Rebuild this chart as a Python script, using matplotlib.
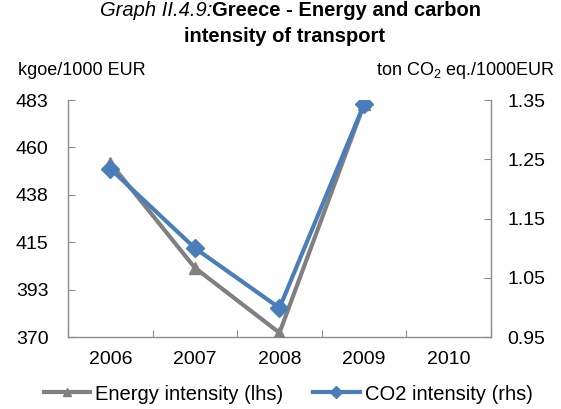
import matplotlib
matplotlib.use("Agg")
import matplotlib.pyplot as plt
import numpy as np

plt.rcParams["font.family"] = ["Liberation Sans", "DejaVu Sans"]
plt.rcParams["mathtext.fontset"] = "custom"
plt.rcParams["mathtext.rm"] = "Liberation Sans"

years = ["2006", "2007", "2008", "2009", "2010"]
energy_intensity = [453, 403, 372, 481]      # lhs, kgoe/1000 EUR
co2_intensity = [1.234, 1.100, 0.999, 1.343]  # rhs, ton CO2 eq./1000EUR
lhs_ticks = np.linspace(370, 483, 6)
rhs_ticks = [0.95, 1.05, 1.15, 1.25, 1.35]

GREY = "#808080"
BLUE = "#4A7EBB"
AXIS = "#8C8C8C"

fig = plt.figure(figsize=(5.61, 4.09), dpi=100)
ax = fig.add_axes([0.1212, 0.176, 0.754, 0.5795])
ax2 = ax.twinx()

x = np.arange(len(energy_intensity))
l1, = ax.plot(x, energy_intensity, color=GREY, lw=3.0, marker="^", ms=9,
              markeredgecolor=GREY, zorder=3)
l2, = ax2.plot(x, co2_intensity, color=BLUE, lw=3.0, marker="D", ms=9,
               markeredgecolor=BLUE, zorder=4)

ax.set_xlim(-0.5, len(years) - 0.5)
ax.set_ylim(lhs_ticks[0], lhs_ticks[-1])
ax2.set_ylim(rhs_ticks[0], rhs_ticks[-1])

ax.set_yticks(lhs_ticks)
ax.set_yticklabels([f"{v:.0f}" for v in lhs_ticks])
ax2.set_yticks(rhs_ticks)
ax2.set_yticklabels([f"{v:.2f}" for v in rhs_ticks])

# category boundaries carry the tick marks, labels sit at category centres
ax.set_xticks(np.arange(len(years) + 1) - 0.5, minor=False)
ax.set_xticklabels([])
ax.set_xticks(np.arange(len(years)), minor=True)
ax.set_xticklabels(years, minor=True)
ax.tick_params(axis="x", which="minor", length=0, labelsize=14, pad=10)
ax.tick_params(axis="x", which="major", direction="in", length=5, color=AXIS)
ax.tick_params(axis="y", direction="in", length=5, color=AXIS, labelsize=14, pad=14)
ax2.tick_params(axis="y", direction="in", length=5, color=AXIS, labelsize=14, pad=12)

for a in (ax, ax2):
    a.spines["top"].set_visible(False)
    for s in a.spines.values():
        s.set_color(AXIS)
        s.set_linewidth(1.0)
ax.spines["right"].set_visible(False)
ax2.spines["left"].set_visible(False)
ax2.spines["bottom"].set_visible(False)

# title: italic prefix + bold text
fig.text(212 / 561, 1 - 16 / 409, "Graph II.4.9:", style="italic", fontsize=14.5,
         ha="right", va="baseline")
fig.text(212 / 561, 1 - 16 / 409, "Greece - Energy and carbon", fontweight="bold",
         fontsize=14.5, ha="left", va="baseline")
fig.text(284 / 561, 1 - 42 / 409, "intensity of transport", fontweight="bold",
         fontsize=14.5, ha="center", va="baseline")

fig.text(18 / 561, 1 - 75 / 409, "kgoe/1000 EUR", fontsize=13, ha="left", va="baseline")
fig.text(555 / 561, 1 - 75 / 409, r"ton CO$_2$ eq./1000EUR", fontsize=13,
         ha="right", va="baseline")

fig.legend([l1, l2], ["Energy intensity (lhs)", "CO2 intensity (rhs)"],
           loc="center", bbox_to_anchor=(288 / 561, 1 - 394 / 409), ncol=2, frameon=False,
           fontsize=14.5, handlelength=2.3, handletextpad=0.25, columnspacing=1.5,
           markerscale=0.7)

fig.savefig("out.png", dpi=100)
